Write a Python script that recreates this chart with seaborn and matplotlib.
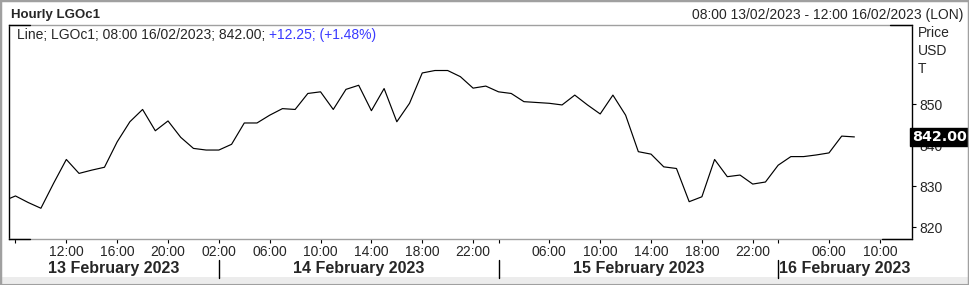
import numpy as np
import pandas as pd
import matplotlib
matplotlib.use("Agg")
import matplotlib.pyplot as plt
import seaborn as sns
from matplotlib.transforms import blended_transform_factory
from matplotlib.lines import Line2D
from matplotlib.patches import Rectangle

W, H = 969, 285

# ---- data -------------------------------------------------------------
# hourly bars, trading hours 01:00-22:00 (London)
data_start = "2023-02-13 07:00"
data_end = "2023-02-16 08:00"
prices = [
    826.3,                                                     # 13/02 07:00
    827.6, 826.0, 824.6, 830.7, 836.5, 833.1, 833.9, 834.6,    # 08-15
    840.8, 845.7, 848.7, 843.5, 845.9, 841.9, 839.2,           # 16-22
    838.8, 838.8, 840.2, 845.4, 845.4, 847.3, 848.9, 848.7,    # 14/02 01-08
    852.6, 853.0, 848.7, 853.6, 854.6, 848.4, 853.8, 845.7,    # 09-16
    850.2, 857.6, 858.2, 858.2, 856.7, 853.9,                  # 17-22
    854.4, 853.0, 852.6, 850.6, 850.4, 850.2, 849.8, 852.2,    # 15/02 01-08
    849.8, 847.6, 852.2, 847.3, 838.4, 837.8, 834.7, 834.3,    # 09-16
    826.2, 827.4, 836.5, 832.3, 832.7, 830.5,                  # 17-22
    831.0, 835.1, 837.2, 837.2, 837.6, 838.1, 842.2, 842.0,    # 16/02 01-08
]

tick_times = ["2023-02-13 08:00", "2023-02-13 12:00", "2023-02-13 16:00", "2023-02-13 20:00",
              "2023-02-14 02:00", "2023-02-14 06:00", "2023-02-14 10:00", "2023-02-14 14:00",
              "2023-02-14 18:00", "2023-02-14 22:00", "2023-02-15 02:00", "2023-02-15 06:00",
              "2023-02-15 10:00", "2023-02-15 14:00", "2023-02-15 18:00", "2023-02-15 22:00",
              "2023-02-16 02:00", "2023-02-16 06:00", "2023-02-16 10:00"]
tick_labels = ["", "12:00", "16:00", "20:00", "02:00", "06:00", "10:00", "14:00", "18:00",
               "22:00", "", "06:00", "10:00", "14:00", "18:00", "22:00", "", "06:00", "10:00"]

day_labels = ["13 February 2023", "14 February 2023", "15 February 2023", "16 February 2023"]
day_breaks = ["2023-02-14 02:00", "2023-02-15 02:00", "2023-02-16 02:00"]

y_ticks = [820, 830, 840, 850]
view_start = "2023-02-13 08:00"
view_end = "2023-02-16 12:00"

title_left = "Hourly LGOc1"
title_right = "08:00 13/02/2023 - 12:00 16/02/2023 (LON)"
legend_black = "Line; LGOc1; 08:00 16/02/2023; 842.00; "
legend_blue = "+12.25; (+1.48%)"
last_value = 842.00

# ---- trading-hour index axis --------------------------------------------
grid = [t for t in pd.date_range("2023-02-13 00:00", "2023-02-16 23:00", freq="h")
        if 1 <= t.hour <= 22]
origin = grid.index(pd.Timestamp(view_start))
pos = {t: i - origin for i, t in enumerate(grid)}
def P(s):
    return pos[pd.Timestamp(s)]

data_times = [t for t in grid if pd.Timestamp(data_start) <= t <= pd.Timestamp(data_end)]
df = pd.DataFrame({"x": [pos[t] for t in data_times], "price": prices})

# ---- figure -------------------------------------------------------------
sns.set_style("white")
plt.rcParams["font.family"] = ["Liberation Sans", "DejaVu Sans"]

fig = plt.figure(figsize=(W / 100, H / 100), dpi=100)
fig.patch.set_facecolor("white")
ax = fig.add_axes([9 / W, 1 - 239 / H, 903 / W, 214 / H])

sns.lineplot(data=df, x="x", y="price", color="black", linewidth=0.85, ax=ax)

ax.set_xlim(P(view_start) - 0.51, P(view_end) + 0.53)
ax.set_ylim(817.1, 869.3)
ax.set_xlabel("")
ax.set_ylabel("")

ax.set_xticks([P(t) for t in tick_times])
ax.set_xticklabels(tick_labels)
ax.tick_params(axis="x", bottom=True, direction="out", length=3, width=0.8,
               color="black", labelsize=10, pad=1.5)

ax.yaxis.tick_right()
ax.set_yticks(y_ticks)
ax.set_yticklabels([str(v) for v in y_ticks])
ax.tick_params(axis="y", right=True, left=False, direction="out", length=3, width=0.8,
               color="black", labelsize=10, pad=2)

for side in ["left", "right"]:
    ax.spines[side].set_color("black")
    ax.spines[side].set_linewidth(1.0)
for side in ["top", "bottom"]:
    ax.spines[side].set_color("#a0a0a0")
    ax.spines[side].set_linewidth(1.0)

# short black corner segments of the frame
for (x0, x1, yy) in [(0, 21 / 903, 1), (0, 21 / 903, 0), (1 - 22 / 903, 1, 1), (1 - 30 / 903, 1, 0)]:
    ax.add_artist(Line2D([x0, x1], [yy, yy], transform=ax.transAxes, color="black",
                         linewidth=1.0, clip_on=False, zorder=5))

def fx(x):
    return x / W
def fy(y):
    return 1 - y / H

# titles
fig.text(fx(11), fy(15), title_left, fontsize=9.5, fontweight="bold", va="center", ha="left")
fig.text(fx(963), fy(15), title_right, fontsize=10, va="center", ha="right")

# legend line
t1 = fig.text(fx(17), fy(35), legend_black, fontsize=10, va="center", ha="left")
ax.annotate(legend_blue, xy=(1, 0), xycoords=t1, va="bottom", ha="left",
            fontsize=10, color="#3a3aff", annotation_clip=False)

# right axis unit labels
for yy, s in zip([33, 51, 69], ["Price", "USD", "T"]):
    fig.text(fx(918), fy(yy), s, fontsize=10, va="center", ha="left")

# last value box
btr = blended_transform_factory(ax.transAxes, ax.transData)
ax.text(1.0, last_value, f"{last_value:.2f}", transform=btr, color="white",
        fontsize=10.3, fontweight="bold", family="DejaVu Sans", va="center", ha="left",
        clip_on=False, zorder=10,
        bbox=dict(boxstyle="square,pad=0.12", facecolor="black", edgecolor="black"))

# date row
dtr = blended_transform_factory(ax.transData, fig.transFigure)
for b in day_breaks:
    fig.add_artist(Line2D([P(b), P(b)], [fy(260), fy(278)], transform=dtr,
                          color="black", linewidth=1.0))
lo, hi = ax.get_xlim()
edges = [lo] + [P(b) for b in day_breaks]
ends = [P(b) for b in day_breaks] + [hi]
for i, lab in enumerate(day_labels[:3]):
    fig.text((edges[i] + ends[i]) / 2, fy(268), lab, transform=dtr, fontsize=11.5,
             fontweight="bold", ha="center", va="center")
fig.text(P(day_breaks[-1]) + 0.1, fy(268), day_labels[3], transform=dtr, fontsize=11.5,
         fontweight="bold", ha="left", va="center")

# window chrome
fig.add_artist(Rectangle((0, 2 / H), 1, 6 / H, transform=fig.transFigure,
                         facecolor="#ececec", edgecolor="none"))
fig.add_artist(Rectangle((0, 0), 1, 1, transform=fig.transFigure, fill=False,
                         edgecolor="#a0a0a0", linewidth=2.5))

fig.savefig("out.png", dpi=100)
